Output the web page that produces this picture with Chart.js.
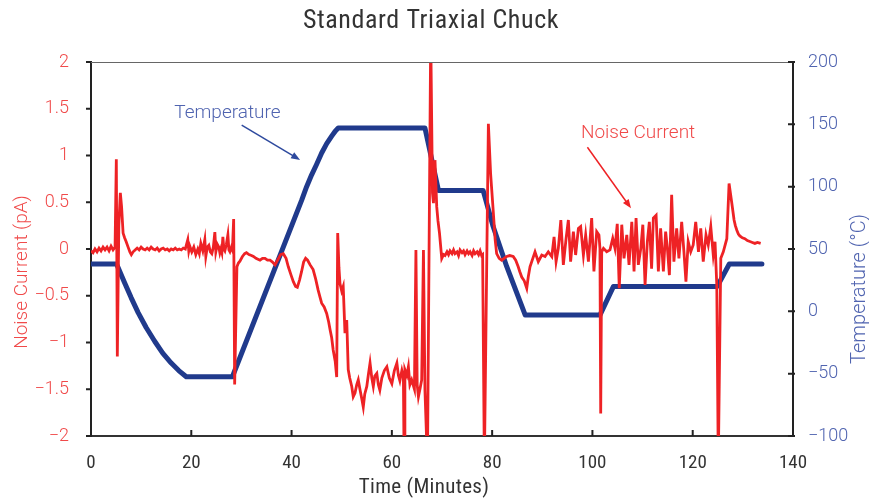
<!DOCTYPE html>
<html>
<head>
<meta charset="utf-8">
<script src="https://cdn.jsdelivr.net/npm/chart.js@4.4.1/dist/chart.umd.min.js"></script>
<style>
  html, body { margin: 0; padding: 0; background: #fff; }
  #wrap { width: 869px; height: 501px; position: relative; }
</style>
</head>
<body>
<div id="wrap"><canvas id="chuckChart"></canvas></div>
<script>
// axis ticks
var timeTicks = [0, 20, 40, 60, 80, 100, 120, 140];
var noiseTicks = [-2, -1.5, -1, -0.5, 0, 0.5, 1, 1.5, 2];
var tempTicks = [-100, -50, 0, 50, 100, 150, 200];

// temperature profile (minutes, deg C)
var tempTime = [0, 5.1, 6.7, 8.0, 9.4, 11.0, 12.7, 14.3, 16.0, 17.5, 19.0, 28.2,
  42, 43, 44, 45, 46, 47, 48, 48.7, 49.3,
  66.6, 69.3, 78.2, 80.2, 82.9, 86.6, 101.5, 104.2, 124.9, 127.3, 133.8];
var tempValue = [38, 38, 23, 11, -1, -13, -24, -33.5, -41.5, -47.5, -52.5, -52.5,
  89, 100, 109.5, 118, 127, 134.5, 140.5, 144.5, 147,
  147, 97, 97, 68, 36, -3, -3, 20, 20, 38, 38];

// noise current trace (minutes, pA)
var noiseTime = [
  0, 0.4, 0.8, 1.2, 1.6, 2.0, 2.4, 2.8, 3.2, 3.6, 4.0, 4.4, 4.8,
  5.05, 5.25, 5.55, 5.85, 6.1, 6.4, 6.7, 7.0, 7.4, 7.75, 8.05, 8.4,
  8.8, 9.2, 9.6, 10.0, 10.4, 10.8, 11.2, 11.6, 12.0, 12.4, 12.8, 13.2, 13.6, 14.0, 14.4, 14.8,
  15.2, 15.6, 16.0, 16.4, 16.8, 17.2, 17.6, 18.0, 18.4, 18.8,
  19.3, 19.5, 19.7, 20.1, 20.5, 20.9, 21.3, 21.6, 21.9, 22.3, 22.7, 22.9, 23.2, 23.5, 23.8, 24.1,
  24.4, 24.7, 24.9, 25.2, 25.5, 25.7, 25.9, 26.1, 26.3, 26.5, 26.7, 27.0, 27.3, 27.5, 27.7, 28.0,
  28.2, 28.45, 28.65,
  29.1, 29.4, 29.7, 30.2, 30.65, 31.0, 31.5, 32.0, 32.4, 32.9, 33.3, 33.7, 34.2, 34.7, 35.2, 35.7,
  36.2, 36.7, 37.2, 37.8, 38.35, 38.9, 39.35, 39.9, 40.35, 40.8, 41.15, 41.6, 42.0, 42.4, 42.8,
  43.2, 43.7, 44.3, 44.8, 45.3, 45.7, 46.0, 46.5, 47.0, 47.4, 47.7, 48.0, 48.3, 48.7, 49.0,
  49.2, 49.45, 49.65, 50.0, 50.3, 50.65, 51.0, 51.3, 51.6, 52.0, 52.3, 52.65, 53.0, 53.3, 53.7,
  54.0, 54.3, 54.6, 55.0, 55.3, 55.65, 56.0, 56.3, 56.6, 57.0, 57.3, 57.6, 58.0, 58.5, 59.0,
  59.5, 60.0, 60.5, 61.0, 61.3, 61.6, 62.0, 62.3, 62.45, 62.6, 63.0, 63.3, 63.6, 63.95, 64.5,
  64.8, 65.05, 65.3, 65.6, 65.95, 66.3, 66.6, 67.1, 67.75, 68.1, 68.3, 68.6, 68.95, 69.2, 69.5,
  69.95, 70.3, 70.6, 71.0, 71.3, 71.6, 72.0, 72.3, 72.6, 73.0, 73.3, 73.6, 74.0, 74.3, 74.6,
  75.0, 75.3, 75.6, 76.0, 76.3, 76.6, 77.0, 77.3, 77.6, 77.9, 78.1, 78.45, 79.25, 79.7, 80.2,
  80.6, 80.9, 81.4, 81.9, 82.4, 82.9, 83.5, 84.2, 84.7, 85.2, 85.5, 85.9, 86.4, 86.9, 87.2,
  87.55, 88.55, 89.2, 89.9, 90.55, 91.2, 91.9, 92.35, 92.75, 93.2, 93.7, 94.2, 94.75, 95.2, 95.65,
  96.2, 96.65, 97.2, 97.65, 98.2, 98.65, 99.2, 99.85, 100.3, 100.85, 101.3, 101.5, 101.65, 101.85,
  102.2, 102.85, 103.5, 104.05, 104.5, 104.95, 105.35, 105.85, 106.3, 106.85, 107.3, 107.85,
  108.3, 108.7, 109.15, 109.65, 110.05, 110.5, 110.95, 111.35, 111.8, 112.15, 112.7, 113.15,
  113.6, 114.15, 114.6, 114.95, 115.35, 115.8, 116.25, 116.8, 117.25, 117.8, 118.25, 118.65,
  119.1, 119.6, 120.1, 120.6, 121.15, 121.6, 122.1, 122.65, 123.1, 123.6, 124.1, 124.45, 124.8,
  125.1, 125.6, 126.1, 126.8, 127.25, 127.8, 128.25, 128.5, 128.8, 129.1, 129.4, 129.9, 130.4,
  130.9, 131.4, 131.9, 132.4, 132.9, 133.55];
var noiseCurrent = [
  -0.02, -0.04, 0.0, -0.03, 0.01, -0.02, 0.02, -0.01, 0.02, -0.02, 0.03, -0.01, 0.02,
  0.96, -1.15, 0.25, 0.6, 0.45, 0.17, 0.12, 0.08, 0.02, -0.03, -0.06, -0.03,
  -0.01, 0.01, -0.01, 0.02, 0.0, -0.01, 0.01, -0.01, 0.02, 0.0, -0.01, 0.01, -0.02, 0.0, 0.01, -0.01,
  0.0, -0.02, 0.0, -0.01, 0.01, -0.01, 0.0, -0.01, 0.01, 0.0,
  0.10, -0.02, 0.03, -0.03, 0.02, -0.06, 0.0, -0.05, 0.06, -0.02, 0.10, -0.08, 0.02, 0.04, -0.03, -0.05,
  0.02, 0.18, -0.03, 0.05, 0.02, -0.04, 0.0, -0.04, 0.13, 0.0, -0.02, 0.05, 0.15, -0.01, -0.03, 0.02,
  -0.01, 0.32, -1.45,
  -0.19, -0.15, -0.13, -0.08, -0.05, -0.04, -0.06, -0.07, -0.08, -0.10, -0.11, -0.12, -0.10, -0.10, -0.12, -0.12,
  -0.14, -0.17, -0.12, -0.06, -0.05, -0.10, -0.19, -0.28, -0.35, -0.40, -0.41, -0.33, -0.24, -0.14, -0.10,
  -0.12, -0.17, -0.22, -0.32, -0.44, -0.52, -0.58, -0.62, -0.69, -0.78, -0.87, -0.95, -1.08, -1.20, -1.37,
  0.17, -0.20, -0.37, -0.45, -0.40, -0.90, -0.76, -1.29, -1.38, -1.47, -1.58, -1.54, -1.45, -1.40, -1.52,
  -1.60, -1.69, -1.55, -1.47, -1.35, -1.22, -1.38, -1.47, -1.36, -1.33, -1.45, -1.51, -1.38, -1.30, -1.26,
  -1.38, -1.44, -1.30, -1.22, -1.35, -1.41, -1.30, -1.37, -2.3, -1.29, -1.35, -1.26, -1.45, -1.40, -1.50,
  -0.01, -1.45, -1.58, -1.50, -1.40, -0.01, -1.51, -2.3, 2.3, 0.60, 0.49, 0.95, 0.45, 0.30, 0.17,
  -0.10, -0.06, -0.07, -0.03, -0.06, -0.02, -0.05, -0.01, -0.05, -0.03, -0.07, -0.01, -0.04, -0.02, -0.06,
  -0.02, -0.05, -0.03, -0.07, -0.02, -0.05, -0.03, -0.06, -0.02, -0.07, -0.06, -2.3, 1.34, 0.80, 0.42,
  0.10, -0.05, -0.10, -0.12, -0.10, -0.08, -0.07, -0.08, -0.12, -0.19, -0.24, -0.30, -0.34, -0.42, -0.30,
  -0.19, -0.03, -0.135, -0.064, -0.08, -0.03, -0.08, 0.13, -0.135, 0.007, 0.31, -0.17, 0.114, 0.31, -0.135,
  0.185, -0.064, 0.22, 0.24, -0.064, 0.15, -0.135, 0.33, -0.24, 0.185, 0.15, 0.007, -1.76, -0.03,
  0.007, -0.03, -0.01, 0.114, 0.007, 0.27, -0.42, 0.26, -0.10, 0.15, -0.17, 0.29,
  -0.24, 0.33, -0.17, 0.007, 0.26, -0.385, 0.078, 0.29, -0.21, 0.33, 0.36, -0.24,
  0.22, -0.24, 0.185, 0.007, -0.28, 0.58, -0.135, 0.22, -0.10, 0.29, -0.03, -0.35,
  0.078, -0.03, 0.043, 0.29, -0.03, 0.22, -0.135, 0.15, 0.043, 0.24, -0.064, 0.078, -0.385,
  -2.3, -0.10, -0.03, 0.11, 0.70, 0.49, 0.31, 0.25, 0.20, 0.16, 0.14, 0.12, 0.11,
  0.09, 0.08, 0.07, 0.06, 0.07, 0.06];

var RED = '#ee2225';
var BLUE = '#203a8c';
var RED_TEXT = '#f04a4a';
var BLUE_TEXT = '#5064b0';
var NARROW = "'Liberation Sans Narrow', 'Roboto Condensed', Roboto, sans-serif";
var LIGHT = "Roboto, 'Noto Sans', sans-serif";

function pairs(xs, ys) {
	var out = [];
	for (var i = 0; i < xs.length; i++) out.push({x: xs[i], y: ys[i]});
	return out;
}
function useTicks(list) {
	return function (scale) { scale.ticks = list.map(function (v) { return {value: v}; }); };
}
function minusSign(v) { return String(v).replace('-', '\u2212'); }

function arrow(ctx, x1, y1, x2, y2, color) {
	var a = Math.atan2(y2 - y1, x2 - x1);
	ctx.strokeStyle = color;
	ctx.fillStyle = color;
	ctx.lineWidth = 1.5;
	ctx.beginPath();
	ctx.moveTo(x1, y1);
	ctx.lineTo(x2 - 6 * Math.cos(a), y2 - 6 * Math.sin(a));
	ctx.stroke();
	ctx.beginPath();
	ctx.moveTo(x2, y2);
	ctx.lineTo(x2 - 9 * Math.cos(a) + 3.5 * Math.sin(a), y2 - 9 * Math.sin(a) - 3.5 * Math.cos(a));
	ctx.lineTo(x2 - 9 * Math.cos(a) - 3.5 * Math.sin(a), y2 - 9 * Math.sin(a) + 3.5 * Math.cos(a));
	ctx.closePath();
	ctx.fill();
}

var decor = {
	id: 'decor',
	afterDraw: function (chart) {
		var ctx = chart.ctx;
		var a = chart.chartArea;
		var sx = chart.scales.x, sy = chart.scales.y, st = chart.scales.y2;
		ctx.save();
		// top frame line
		ctx.strokeStyle = '#666';
		ctx.lineWidth = 1;
		ctx.beginPath();
		ctx.moveTo(a.left, a.top + 0.5);
		ctx.lineTo(a.right, a.top + 0.5);
		ctx.stroke();
		// tick marks
		ctx.strokeStyle = '#222';
		ctx.lineWidth = 2;
		ctx.beginPath();
		timeTicks.forEach(function (v) {
			var px = sx.getPixelForValue(v);
			ctx.moveTo(px, a.bottom); ctx.lineTo(px, a.bottom - 6);
		});
		noiseTicks.forEach(function (v) {
			var py = sy.getPixelForValue(v);
			ctx.moveTo(a.left - 5, py); ctx.lineTo(a.left, py);
		});
		tempTicks.forEach(function (v) {
			var py = st.getPixelForValue(v);
			ctx.moveTo(a.right - 5, py); ctx.lineTo(a.right + 2, py);
		});
		ctx.stroke();

		// chart title
		ctx.fillStyle = '#333';
		ctx.textAlign = 'center';
		ctx.textBaseline = 'middle';
		ctx.font = '26px ' + NARROW;
		ctx.letterSpacing = '0.6px';
		ctx.fillText('Standard Triaxial Chuck', 431, 21);
		// x axis title
		ctx.font = '21px ' + NARROW;
		ctx.letterSpacing = '0.3px';
		ctx.fillText('Time (Minutes)', 424, 488);
		ctx.letterSpacing = '0px';
		// left axis title
		ctx.save();
		ctx.translate(22, 272);
		ctx.rotate(-Math.PI / 2);
		ctx.fillStyle = RED_TEXT;
		ctx.font = '300 19px ' + LIGHT;
		ctx.fillText('Noise Current (pA)', 0, 0);
		ctx.restore();
		// right axis title
		ctx.save();
		ctx.translate(860, 289);
		ctx.rotate(-Math.PI / 2);
		ctx.fillStyle = BLUE_TEXT;
		ctx.font = '300 20px ' + LIGHT;
		ctx.fillText('Temperature (\u00B0C)', 0, 0);
		ctx.restore();

		// annotations placed in data units
		ctx.font = '300 19px ' + LIGHT;
		ctx.fillStyle = BLUE_TEXT;
		ctx.fillText('Temperature', sx.getPixelForValue(27.2), sy.getPixelForValue(1.455));
		arrow(ctx, sx.getPixelForValue(30.05), sy.getPixelForValue(1.326),
			sx.getPixelForValue(41.7), sy.getPixelForValue(0.952), '#2e4a9e');
		ctx.fillStyle = RED_TEXT;
		ctx.fillText('Noise Current', sx.getPixelForValue(109.1), sy.getPixelForValue(1.24));
		arrow(ctx, sx.getPixelForValue(99.0), sy.getPixelForValue(1.088),
			sx.getPixelForValue(107.7), sy.getPixelForValue(0.435), RED);
		ctx.restore();
	}
};

var context = document.getElementById('chuckChart').getContext('2d');
var myChart = new Chart(context, {
	type: 'line',
	data: {
		datasets: [
			{
				label: 'Noise Current',
				data: pairs(noiseTime, noiseCurrent),
				yAxisID: 'y',
				borderColor: RED,
				borderWidth: 2.8,
				pointRadius: 0,
				tension: 0,
				fill: false
			},
			{
				label: 'Temperature',
				data: pairs(tempTime, tempValue),
				yAxisID: 'y2',
				borderColor: BLUE,
				borderWidth: 5,
				pointRadius: 0,
				tension: 0,
				borderJoinStyle: 'round',
				borderCapStyle: 'round',
				fill: false
			}
		]
	},
	options: {
		responsive: true,
		maintainAspectRatio: false,
		animation: false,
		layout: { padding: { top: 62, left: 0, right: 0, bottom: 0 } },
		plugins: {
			legend: { display: false },
			tooltip: { enabled: false },
			title: { display: false }
		},
		scales: {
			x: {
				type: 'linear',
				min: 0,
				max: 140,
				afterBuildTicks: useTicks(timeTicks),
				afterFit: function (s) { s.height = 65; },
				grid: { display: false },
				border: { display: true, color: '#333', width: 2 },
				ticks: {
					color: '#333',
					padding: 8,
					maxRotation: 0,
					font: { family: NARROW, size: 19 }
				}
			},
			y: {
				position: 'left',
				min: -2,
				max: 2,
				afterBuildTicks: useTicks(noiseTicks),
				afterFit: function (s) { s.width = 91; },
				grid: { display: false },
				border: { display: true, color: '#222', width: 2 },
				ticks: {
					color: RED_TEXT,
					padding: 14,
					callback: minusSign,
					font: { family: LIGHT, size: 18, weight: '300' }
				}
			},
			y2: {
				position: 'right',
				min: -100,
				max: 200,
				afterBuildTicks: useTicks(tempTicks),
				afterFit: function (s) { s.width = 76; },
				grid: { display: false },
				border: { display: true, color: '#222', width: 2 },
				ticks: {
					color: BLUE_TEXT,
					padding: 7,
					callback: minusSign,
					font: { family: LIGHT, size: 18, weight: '300' }
				}
			}
		}
	},
	plugins: [decor]
});
</script>
</body>
</html>
